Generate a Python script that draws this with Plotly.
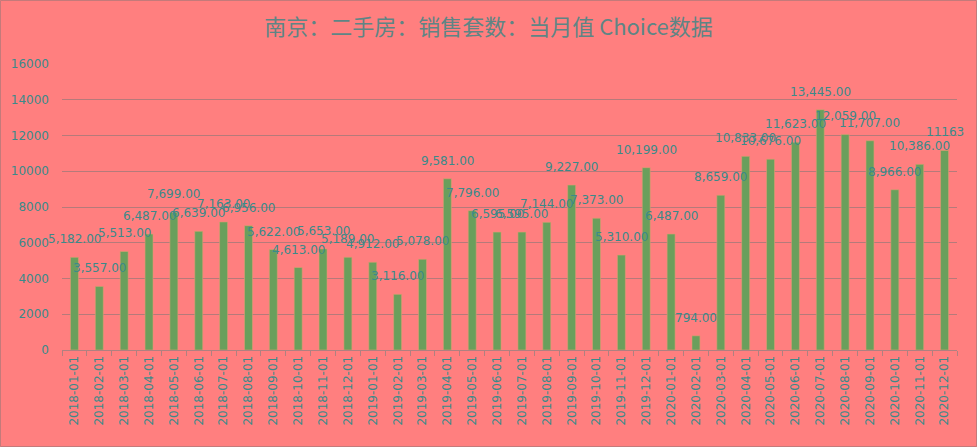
import plotly.graph_objects as go

months = [
    "2018-01-01", "2018-02-01", "2018-03-01", "2018-04-01", "2018-05-01", "2018-06-01",
    "2018-07-01", "2018-08-01", "2018-09-01", "2018-10-01", "2018-11-01", "2018-12-01",
    "2019-01-01", "2019-02-01", "2019-03-01", "2019-04-01", "2019-05-01", "2019-06-01",
    "2019-07-01", "2019-08-01", "2019-09-01", "2019-10-01", "2019-11-01", "2019-12-01",
    "2020-01-01", "2020-02-01", "2020-03-01", "2020-04-01", "2020-05-01", "2020-06-01",
    "2020-07-01", "2020-08-01", "2020-09-01", "2020-10-01", "2020-11-01", "2020-12-01",
]
sales = [
    5182, 3557, 5513, 6487, 7699, 6639, 7163, 6956, 5622, 4613, 5653, 5189,
    4912, 3116, 5078, 9581, 7796, 6595, 6595, 7144, 9227, 7373, 5310, 10199,
    6487, 794, 8659, 10833, 10676, 11623, 13445, 12059, 11707, 8966, 10386, 11163,
]
y_ticks = [0, 2000, 4000, 6000, 8000, 10000, 12000, 14000, 16000]
title_text = "南京：二手房：销售套数：当月值 Choice数据"

# data labels: formatted, except the last one shown raw in the source
labels = [f"{v:,.2f}" for v in sales]
labels[-1] = str(sales[-1])

BG = "#ff7f7f"
TXT = "#3a8a8a"
W, H = 977, 447
ML, MR, MT, MB = 62, 20, 64, 97
PW, PH = W - ML - MR, H - MT - MB

fig = go.Figure()
fig.add_trace(go.Bar(
    x=months, y=sales,
    marker=dict(color="#6a9f5c", line=dict(color="#d9a070", width=0.6)),
    hoverinfo="x+y",
))

for m, v, t in zip(months, sales, labels):
    fig.add_annotation(
        x=m, y=v, text=t, showarrow=False, yanchor="middle", yshift=18,
        font=dict(family="DejaVu Sans", size=12, color=TXT),
    )

# thin frame around the whole chart
fig.add_shape(
    type="rect", xref="paper", yref="paper",
    x0=-ML / PW + 0.5 / PW, x1=1 + MR / PW - 0.5 / PW,
    y0=-MB / PH + 0.5 / PH, y1=1 + MT / PH - 0.5 / PH,
    line=dict(color="#c47a7a", width=1), layer="below",
)

fig.update_layout(
    width=W, height=H,
    paper_bgcolor=BG, plot_bgcolor=BG,
    margin=dict(l=ML, r=MR, t=MT, b=MB, autoexpand=False),
    bargap=0.68,
    showlegend=False,
    title=dict(
        text=title_text, x=0.5, xanchor="center", y=0.94, yanchor="middle",
        font=dict(family="Noto Sans CJK SC", size=22, color="#5e8585"),
    ),
    xaxis=dict(
        type="category",
        range=[-0.5, len(months) - 0.5],
        automargin=False,
        tickangle=-90,
        tickfont=dict(family="DejaVu Sans", size=12, color=TXT),
        showgrid=False,
        showline=True, linecolor="#b08080", linewidth=1,
        ticks="outside", tickson="boundaries", ticklen=5, tickcolor="#b08080",
    ),
    yaxis=dict(
        automargin=False,
        range=[0, 16000],
        tickvals=y_ticks,
        ticktext=[str(v) for v in y_ticks],
        tickfont=dict(family="DejaVu Sans", size=12, color=TXT),
        showgrid=True, gridcolor="#b57a7a", gridwidth=1,
        zeroline=False, showline=False,
        ticklabelstandoff=12,
    ),
)

fig.write_html("out.html")
